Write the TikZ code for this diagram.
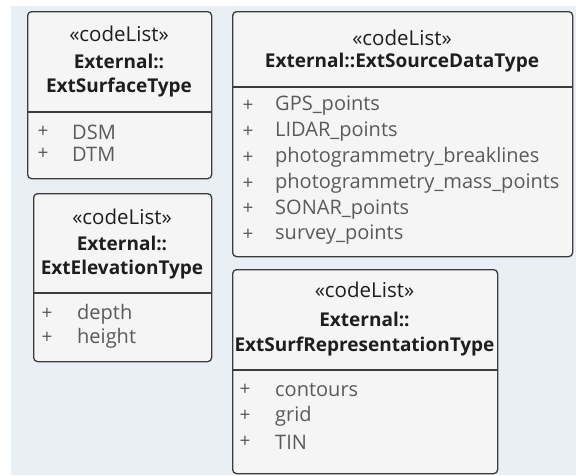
\documentclass[tikz,border=0pt]{standalone}
\usepackage{fontspec}
\setmainfont{Open Sans}
\usetikzlibrary{positioning}

\definecolor{bgblue}{HTML}{EAEEF5}
\definecolor{boxfill}{HTML}{F5F5F5}
\definecolor{boxline}{HTML}{3C3C3C}
\definecolor{headtext}{HTML}{1E1E1E}
\definecolor{attrtext}{HTML}{5A5A5A}

\tikzset{
  classbox/.style={draw=boxline, fill=boxfill, rounded corners=4pt, line width=1.3pt,
                   anchor=north west, inner sep=0pt},
  divline/.style={draw=boxline, line width=1.3pt},
  stereo/.style={inner sep=0pt, text=headtext, font=\fontsize{20.5}{22}\selectfont},
  cname/.style={inner sep=0pt, text=headtext, font=\fontsize{19}{21}\selectfont\bfseries},
  plusmark/.style={inner sep=0pt, text=attrtext, font=\fontsize{19}{21}\selectfont},
  attr/.style={inner sep=0pt, anchor=west, text=attrtext, font=\fontsize{20}{22}\selectfont}
}

\begin{document}
\begin{tikzpicture}[x=1pt, y=-1pt]

  \useasboundingbox (0,0) rectangle (576,475);
  \fill[white] (0,0) rectangle (576,475);
  \fill[bgblue] (11,6) rectangle (576,475);

  % ExtSurfaceType
  \node[classbox, minimum width=184pt, minimum height=167pt] (surf) at (27,11) {};
  \node[stereo] (surfst) at (119,34) {«codeList»};
  \node[cname] (surfpk) at (119,61) {External::};
  \node[cname] (surfnm) at (119,88) {ExtSurfaceType};
  \draw[divline] (surf.west |- 0,112) -- (surf.east |- 0,112);
  \foreach \i/\txt in {0/DSM, 1/DTM} {
    \node[plusmark] (surfp\i) at (43,132+\i*22) {+};
    \node[attr] (surfa\i) at (72,132+\i*22) {\txt};
  }

  % ExtElevationType
  \node[classbox, minimum width=178pt, minimum height=168pt] (elev) at (33,193) {};
  \node[stereo] (elevst) at (122,217) {«codeList»};
  \node[cname] (elevpk) at (122,243) {External::};
  \node[cname] (elevnm) at (122,270) {ExtElevationType};
  \draw[divline] (elev.west |- 0,293) -- (elev.east |- 0,293);
  \foreach \i/\txt in {0/depth, 1/height} {
    \node[plusmark] (elevp\i) at (47,314+\i*24) {+};
    \node[attr] (eleva\i) at (77,314+\i*24) {\txt};
  }

  % ExtSourceDataType
  \node[classbox, minimum width=340pt, minimum height=245pt] (src) at (232,11) {};
  \node[stereo] (srcst) at (402,38) {«codeList»};
  \node[cname] (srcnm) at (402,63) {External::ExtSourceDataType};
  \draw[divline] (src.west |- 0,87) -- (src.east |- 0,87);
  \foreach \i/\txt in {0/GPS\_points, 1/LIDAR\_points, 2/photogrammetry\_breaklines,
                      3/photogrammetry\_mass\_points, 4/SONAR\_points, 5/survey\_points} {
    \node[plusmark] (srcp\i) at (248,106+\i*25.8) {+};
    \node[attr] (srca\i) at (275,106+\i*25.8) {\txt};
  }

  % ExtSurfRepresentationType
  \node[classbox, minimum width=265pt, minimum height=204pt] (rep) at (232,269) {};
  \node[stereo] (repst) at (364.5,290) {«codeList»};
  \node[cname] (reppk) at (364.5,319) {External::};
  \node[cname] (repnm) at (364.5,347) {ExtSurfRepresentationType};
  \draw[divline] (rep.west |- 0,370) -- (rep.east |- 0,370);
  \foreach \i/\txt in {0/contours, 1/grid, 2/TIN} {
    \node[plusmark] (repp\i) at (245,390+\i*26) {+};
    \node[attr] (repa\i) at (275,390+\i*26) {\txt};
  }

\end{tikzpicture}
\end{document}
